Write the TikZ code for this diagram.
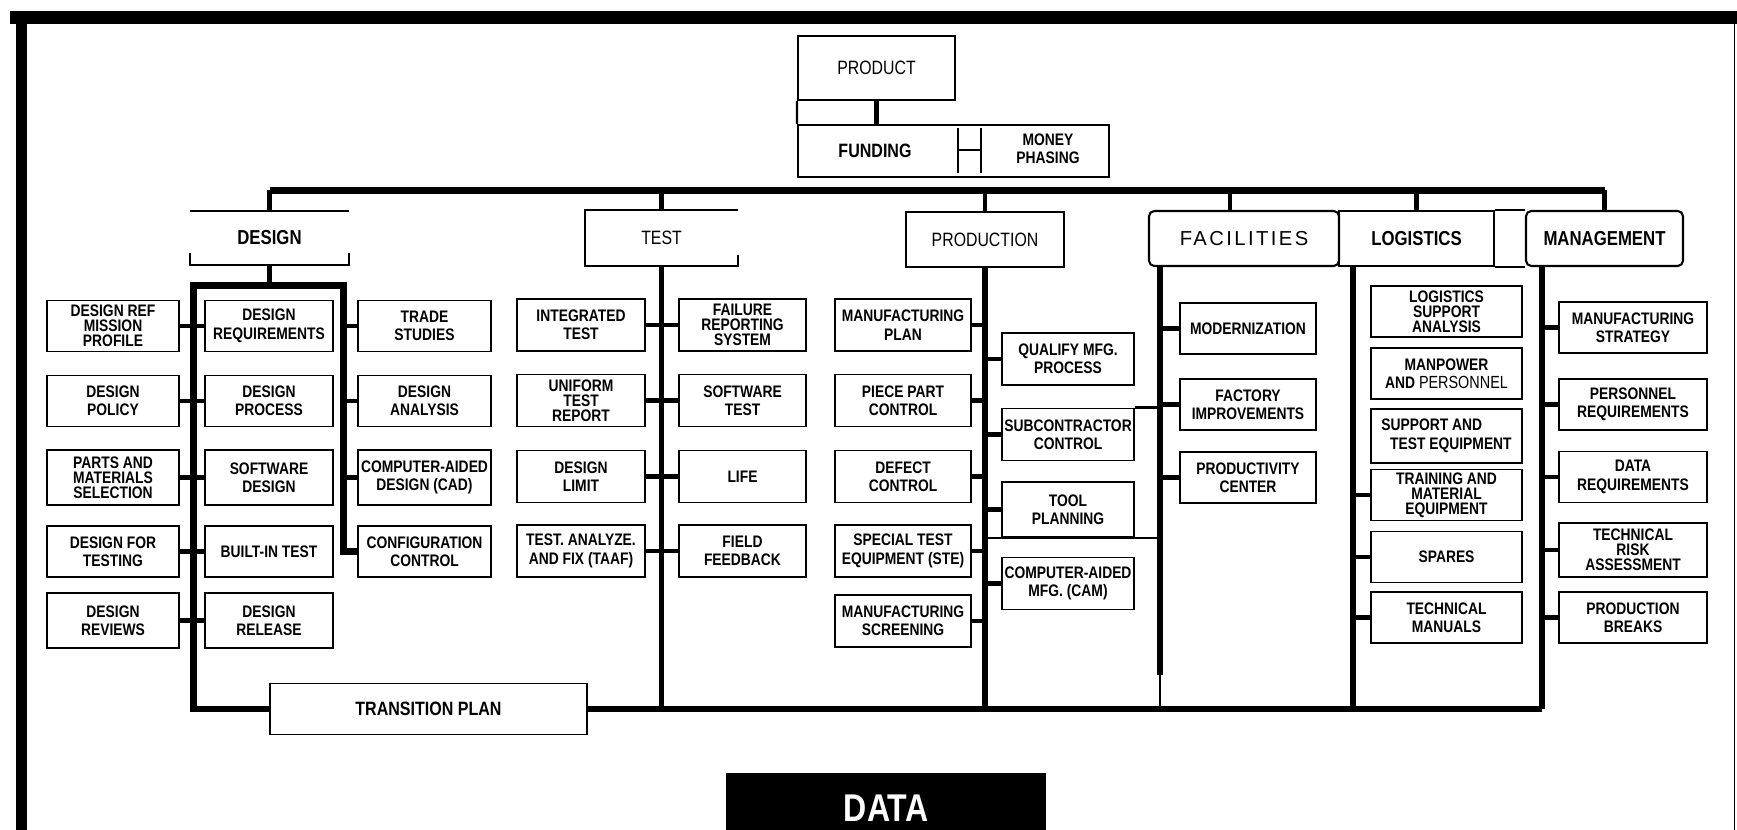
\documentclass[tikz,border=0pt]{standalone}
\usepackage{fontspec}
\setmainfont{Liberation Sans}
\newfontfamily\lblfont[FakeStretch=0.83]{Liberation Sans}
\newfontfamily\plainfont[FakeStretch=0.82]{Liberation Sans}
\newfontfamily\widefont[LetterSpace=12]{Liberation Sans}
\newcommand{\bxfont}{\lblfont\bfseries\fontsize{9.5}{10.5}\selectfont}
\newcommand{\bxtight}{\lblfont\bfseries\fontsize{9.5}{8.6}\selectfont}
\tikzset{
  bx/.style={rectangle, draw=black, line width=1.1pt, align=center, inner sep=1pt,
             minimum height=1.02cm, font=\bxfont},
  three/.style={font=\bxtight},
  desA/.style={bx, minimum width=2.64cm},
  desB/.style={bx, minimum width=2.56cm},
  desC/.style={bx, minimum width=2.66cm},
  tstL/.style={bx, minimum width=2.56cm, minimum height=1.04cm},
  tstR/.style={bx, minimum width=2.54cm, minimum height=1.04cm},
  prdL/.style={bx, minimum width=2.72cm, minimum height=1.04cm},
  prdR/.style={bx, minimum width=2.64cm, minimum height=1.04cm},
  facB/.style={bx, minimum width=2.72cm},
  logB/.style={bx, minimum width=3.02cm},
  manB/.style={bx, minimum width=2.96cm},
  cat/.style={rectangle, align=center, inner sep=2pt, minimum height=1.1cm},
  catbox/.style={cat, draw=black, line width=1.2pt},
  catbold/.style={font=\lblfont\bfseries\fontsize{11.5}{12}\selectfont},
  catplain/.style={font=\plainfont\fontsize{11}{12}\selectfont},
  edge/.style={line width=1.2pt},
  mainbus/.style={line width=4pt},
  drop/.style={line width=2.4pt},
  dbus/.style={line width=3.8pt},
  sbus/.style={line width=2.9pt},
  bbus/.style={line width=3.4pt},
  stub/.style={line width=2.4pt},
  thinln/.style={line width=1.4pt},
}

\begin{document}
\begin{tikzpicture}[x=0.02cm, y=-0.02cm]
\useasboundingbox (0,0) rectangle (1737,830);

% ============================ frame =====================================
\draw[line width=7.4pt] (10,17.5) -- (1737,17.5);
\draw[line width=6.3pt] (21.5,14) -- (21.5,830);
\draw[line width=0.9pt] (1734.5,17.5) -- (1734.5,830);

% ============================ product and funding =======================
\node[catbox, catplain, minimum width=3.14cm, minimum height=1.28cm] (product) at (876.5,68) {PRODUCT};
\node[catbox, minimum width=6.22cm, minimum height=1.04cm] (funding) at (953.5,151) {};
\node[font=\lblfont\bfseries\fontsize{11}{12}\selectfont] (fundlbl) at (875,151) {FUNDING};
\node[align=center, font=\lblfont\bfseries\fontsize{9.5}{10}\selectfont] (phasing) at (1048,149) {MONEY\\PHASING};
\draw[line width=1pt] (958,128) -- (958,173) (981,128) -- (981,173) (958,150) -- (981,150);
\draw[drop] (product.south) -- (product.south |- funding.north);
\draw[edge] (product.south west) -- (funding.north west);

% ============================ top level =================================
\node[cat, catbold, minimum width=3.16cm, minimum height=1.08cm] (design) at (269.5,238) {DESIGN};
\node[cat, catplain, minimum width=3.06cm, minimum height=1.12cm] (test) at (661.5,238) {TEST};
\node[catbox, catplain, minimum width=3.16cm] (production) at (985,239.5) {PRODUCTION};
\node[catbox, rounded corners=3pt, font=\widefont\fontsize{11.5}{12}\selectfont,
      minimum width=3.8cm] (facilities) at (1244,238.5) {FACILITIES};
\node[catbox, catbold, minimum width=3.1cm] (logistics) at (1416.5,238.5) {LOGISTICS};
\node[catbox, catbold, rounded corners=3pt, minimum width=3.14cm] (management) at (1604.5,238.5) {MANAGEMENT};

\draw[edge] (design.north west) -- (design.north east);
\draw[edge] ([yshift=0.24cm]design.south west) -- (design.south west) -- (design.south east)
  -- ([yshift=0.24cm]design.south east);
\draw[edge] (test.north east) -- (test.north west) -- (test.south west) -- (test.south east)
  -- ([yshift=0.22cm]test.south east);
\draw[edge] (logistics.north east) -- (management.north west)
  (logistics.south east) -- (management.south west);

\coordinate (busy) at (0,190.5);
\draw[mainbus] (design.north |- busy) -- (management.north |- busy);
\draw[drop] (design.north) -- (design.north |- busy)
  (test.north) -- (test.north |- busy)
  (production.north) -- (production.north |- busy)
  ([xshift=-0.28cm]facilities.north) -- ([xshift=-0.28cm]facilities.north |- busy)
  (logistics.north) -- (logistics.north |- busy)
  (management.north) -- (management.north |- busy);

% ============================ design ====================================
\node[desA, three] (dref) at (113,326) {DESIGN REF\\MISSION\\PROFILE};
\node[desA] (dpol) at (113,401) {DESIGN\\POLICY};
\node[desA, three, minimum height=1.1cm] (dparts) at (113,477.5) {PARTS AND\\MATERIALS\\SELECTION};
\node[desA] (dfortest) at (113,551.5) {DESIGN FOR\\TESTING};
\node[desA, minimum height=1.1cm] (dreviews) at (113,620.5) {DESIGN\\REVIEWS};

\node[desB] (dreq) at (269,326) {DESIGN\\REQUIREMENTS};
\node[desB] (dproc) at (269,401) {DESIGN\\PROCESS};
\node[desB, minimum height=1.1cm] (dsoft) at (269,477.5) {SOFTWARE\\DESIGN};
\node[desB] (dbit) at (269,551.5) {BUILT-IN TEST};
\node[desB, minimum height=1.1cm] (drel) at (269,620.5) {DESIGN\\RELEASE};

\node[desC] (trade) at (424.5,326) {TRADE\\STUDIES};
\node[desC] (danal) at (424.5,401) {DESIGN\\ANALYSIS};
\node[desC, minimum height=1.1cm] (dcad) at (424.5,477.5) {COMPUTER-AIDED\\DESIGN (CAD)};
\node[desC] (dconf) at (424.5,551.5) {CONFIGURATION\\CONTROL};

\node[bx, minimum width=6.34cm, font=\lblfont\bfseries\fontsize{11}{12}\selectfont] (transition) at (428.5,709) {TRANSITION PLAN};

\coordinate (dLt) at (193.5,285.5);
\coordinate (dRt) at (343.5,285.5);
\draw[drop] (design.south) -- (design.south |- dLt);
\draw[dbus] (transition.west) -| (dLt) -- (dRt) |- (dconf.west);
\draw[stub] (dref.east) -- (dref.east -| dLt) (dpol.east) -- (dpol.east -| dLt)
  (dparts.east) -- (dparts.east -| dLt) (dfortest.east) -- (dfortest.east -| dLt)
  (dreviews.east) -- (dreviews.east -| dLt)
  (dreq.west) -- (dreq.west -| dLt) (dproc.west) -- (dproc.west -| dLt)
  (dsoft.west) -- (dsoft.west -| dLt) (dbit.west) -- (dbit.west -| dLt)
  (drel.west) -- (drel.west -| dLt)
  (trade.west) -- (trade.west -| dRt) (danal.west) -- (danal.west -| dRt)
  (dcad.west) -- (dcad.west -| dRt);

% ============================ test ======================================
\node[tstL] (itest) at (581,325) {INTEGRATED\\TEST};
\node[tstL, three] (utr) at (581,400.5) {UNIFORM\\TEST\\REPORT};
\node[tstL] (dlimit) at (581,476.5) {DESIGN\\LIMIT};
\node[tstL] (taaf) at (581,551) {TEST. ANALYZE.\\AND FIX (TAAF)};

\node[tstR, three] (frs) at (742.5,325) {FAILURE\\REPORTING\\SYSTEM};
\node[tstR] (stest) at (742.5,400.5) {SOFTWARE\\TEST};
\node[tstR] (life) at (742.5,476.5) {LIFE};
\node[tstR] (field) at (742.5,551) {FIELD\\FEEDBACK};

\coordinate (bEnd) at (1542,709);
\draw[sbus] (test.south) -- (test.south |- bEnd);
\draw[stub] (itest.east) -- (itest.east -| test.south) (utr.east) -- (utr.east -| test.south)
  (dlimit.east) -- (dlimit.east -| test.south) (taaf.east) -- (taaf.east -| test.south)
  (frs.west) -- (frs.west -| test.south) (stest.west) -- (stest.west -| test.south)
  (life.west) -- (life.west -| test.south) (field.west) -- (field.west -| test.south);

% ============================ production ================================
\node[prdL] (mplan) at (903,325) {MANUFACTURING\\PLAN};
\node[prdL] (ppc) at (903,400.5) {PIECE PART\\CONTROL};
\node[prdL] (defect) at (903,476.5) {DEFECT\\CONTROL};
\node[prdL] (ste) at (903,551) {SPECIAL TEST\\EQUIPMENT (STE)};
\node[prdL] (mscreen) at (903,621) {MANUFACTURING\\SCREENING};

\node[prdR] (qual) at (1068,359) {QUALIFY MFG.\\PROCESS};
\node[prdR] (subcon) at (1068,434.5) {SUBCONTRACTOR\\CONTROL};
\node[prdR, minimum height=1.1cm] (tool) at (1068,509.5) {TOOL\\PLANNING};
\node[prdR] (cam) at (1068,583.5) {COMPUTER-AIDED\\MFG. (CAM)};

\draw[sbus] (production.south) -- (production.south |- bEnd);
\draw[stub] (mplan.east) -- (mplan.east -| production.south)
  (ppc.east) -- (ppc.east -| production.south)
  (defect.east) -- (defect.east -| production.south)
  (ste.east) -- (ste.east -| production.south)
  (mscreen.east) -- (mscreen.east -| production.south)
  (qual.west) -- (qual.west -| production.south)
  (subcon.west) -- (subcon.west -| production.south)
  (tool.west) -- (tool.west -| production.south)
  (cam.west) -- (cam.west -| production.south);

% ============================ facilities ================================
\node[facB] (modern) at (1248,328.5) {MODERNIZATION};
\node[facB] (factory) at (1248,404.5) {FACTORY\\IMPROVEMENTS};
\node[facB] (prodctr) at (1248,477.5) {PRODUCTIVITY\\CENTER};

\coordinate (fTop) at (1160,266);
\coordinate (fEnd) at (1160,675);
\draw[sbus] (fTop) -- (fEnd);
\draw[thinln] (fEnd) -- (fEnd |- bEnd);
\draw[stub] (modern.west) -- (modern.west -| fTop) (factory.west) -- (factory.west -| fTop)
  (prodctr.west) -- (prodctr.west -| fTop);
\draw[thinln] (subcon.north east) -- (subcon.north east -| fTop);
\draw[thinln] (tool.south -| production.south) -- (tool.south -| fTop);

% ============================ logistics =================================
\node[logB, three] (lsa) at (1446.5,311.5) {LOGISTICS\\SUPPORT\\ANALYSIS};
\node[logB] (manpow) at (1446.5,373.5) {MANPOWER\\AND {\plainfont\mdseries\fontsize{10}{10.5}\selectfont PERSONNEL}};
\node[logB, align=left, minimum height=1.08cm] (supeq) at (1446.5,436) {SUPPORT AND\\\hspace*{5pt}TEST EQUIPMENT};
\node[logB, three] (training) at (1446.5,495) {TRAINING AND\\MATERIAL\\EQUIPMENT};
\node[logB] (spares) at (1446.5,557) {SPARES};
\node[logB] (manuals) at (1446.5,617.5) {TECHNICAL\\MANUALS};

\coordinate (lTop) at (1353,266);
\draw[sbus] (lTop) -- (lTop |- bEnd);
\draw[stub] (training.west) -- (training.west -| lTop) (spares.west) -- (spares.west -| lTop)
  (manuals.west) -- (manuals.west -| lTop);

% ============================ management ================================
\node[manB] (mstrat) at (1633,327.5) {MANUFACTURING\\STRATEGY};
\node[manB] (preq) at (1633,404.5) {PERSONNEL\\REQUIREMENTS};
\node[manB] (datareq) at (1633,477) {DATA\\REQUIREMENTS};
\node[manB, three, minimum height=1.08cm] (risk) at (1633,550) {TECHNICAL\\RISK\\ASSESSMENT};
\node[manB] (breaks) at (1633,617.5) {PRODUCTION\\BREAKS};

\coordinate (mTop) at (1542,266);
\draw[sbus] (mTop) -- (bEnd);
\draw[stub] (mstrat.west) -- (mstrat.west -| mTop) (preq.west) -- (preq.west -| mTop)
  (datareq.west) -- (datareq.west -| mTop) (risk.west) -- (risk.west -| mTop)
  (breaks.west) -- (breaks.west -| mTop);

% ============================ bottom bus and data =======================
\draw[bbus] (transition.east) -- (transition.east -| bEnd);

\node[fill=black, text=white, anchor=north, minimum width=6.4cm, minimum height=1.4cm,
      font=\lblfont\bfseries\fontsize{22}{24}\selectfont] (data) at (886,773) {DATA};

\end{tikzpicture}
\end{document}
